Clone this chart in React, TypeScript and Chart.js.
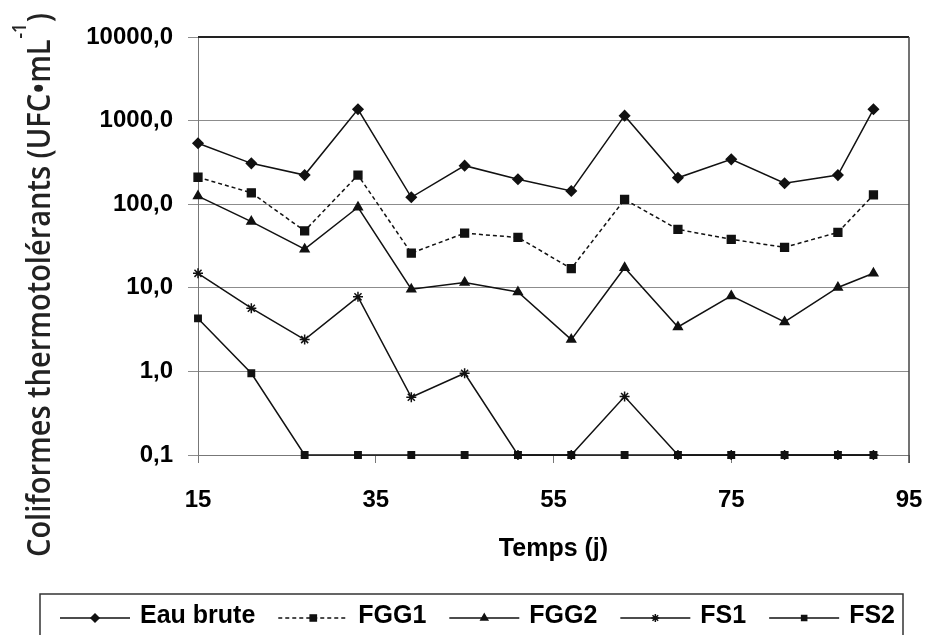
import React, { useEffect, useRef } from "react";
import { Chart, registerables } from "chart.js";
import { drawPoint } from "chart.js/helpers";

Chart.register(...registerables);

// ---- data ----
const days = [15, 21, 27, 33, 39, 45, 51, 57, 63, 69, 75, 81, 87, 91];
const eauBrute = [535, 308, 223, 1365, 121, 289, 199, 144, 1145, 207, 344, 178, 223, 1365];
const fgg1 = [210, 137, 48, 223, 26, 45, 40, 17, 114, 50, 38, 30.5, 46, 129];
const fgg2 = [125, 62, 29, 92, 9.6, 11.6, 8.9, 2.4, 17.4, 3.4, 8.0, 3.9, 10.1, 14.9];
const fs1 = [14.9, 5.7, 2.4, 7.8, 0.49, 0.95, 0.1, 0.1, 0.5, 0.1, 0.1, 0.1, 0.1, 0.1];
const fs2 = [4.3, 0.95, 0.1, 0.1, 0.1, 0.1, 0.1, 0.1, 0.1, 0.1, 0.1, 0.1, 0.1, 0.1];
const seriesNames = ["Eau brute", "FGG1", "FGG2", "FS1", "FS2"];
const yTicks = [0.1, 1, 10, 100, 1000, 10000];
const yTickLabels = ["0,1", "1,0", "10,0", "100,0", "1000,0", "10000,0"];
const xTicks = [15, 35, 55, 75, 95];
const yTitle = "Coliformes thermotolérants (UFC•mL";
const yTitleSup = "-1";
const yTitleEnd = ")";
const xTitle = "Temps (j)";

const FONT = "'Liberation Sans', Arial, sans-serif";
const INK = "#111";

const styles = [
  { pointStyle: "rectRot", radius: 5, dash: [] as number[] },
  { pointStyle: "rect", radius: 5.5, dash: [4, 3] },
  { pointStyle: "triangle", radius: 5, dash: [] as number[] },
  { pointStyle: "star", radius: 5, dash: [] as number[] },
  { pointStyle: "rect", radius: 4.5, dash: [] as number[] },
];

const allSeries = [eauBrute, fgg1, fgg2, fs1, fs2];

const decorPlugin = {
  id: "decor",
  afterDraw(chart: any) {
    const ctx = chart.ctx as CanvasRenderingContext2D;
    const ca = chart.chartArea;
    ctx.save();
    // plot border: top and right
    ctx.strokeStyle = "#222";
    ctx.lineWidth = 2;
    ctx.beginPath();
    ctx.moveTo(ca.left, ca.top);
    ctx.lineTo(ca.right, ca.top);
    ctx.stroke();
    ctx.strokeStyle = "#444";
    ctx.lineWidth = 1.5;
    ctx.beginPath();
    ctx.moveTo(ca.right, ca.top);
    ctx.lineTo(ca.right, ca.bottom + 8);
    ctx.stroke();

    // y axis title (rotated)
    ctx.fillStyle = "#222";
    ctx.textBaseline = "alphabetic";
    ctx.textAlign = "left";
    const mainFont = "600 32px 'Open Sans', sans-serif";
    const supFont = "600 19px 'Open Sans', sans-serif";
    ctx.font = mainFont;
    const w1 = ctx.measureText(yTitle).width;
    const w3 = ctx.measureText(yTitleEnd).width;
    ctx.font = supFont;
    const w2 = ctx.measureText(yTitleSup).width;
    const total = w1 + w2 + w3 + 2;
    const targetLen = 544;
    const s = targetLen / total;
    ctx.translate(50, 557);
    ctx.rotate(-Math.PI / 2);
    ctx.scale(s, 1);
    ctx.font = mainFont;
    ctx.fillText(yTitle, 0, 0);
    ctx.font = supFont;
    ctx.fillText(yTitleSup, w1 + 1, -24);
    ctx.font = mainFont;
    ctx.fillText(yTitleEnd, w1 + w2 + 2, 0);
    ctx.restore();

    // x axis title
    ctx.save();
    ctx.fillStyle = "#000";
    ctx.font = `bold 25px ${FONT}`;
    ctx.textAlign = "center";
    ctx.textBaseline = "middle";
    ctx.fillText(xTitle, (ca.left + ca.right) / 2, 549);
    ctx.restore();

    // legend
    ctx.save();
    ctx.strokeStyle = "#333";
    ctx.lineWidth = 1.5;
    ctx.strokeRect(40, 594, 863, 60);
    ctx.font = `bold 25px ${FONT}`;
    const widths = seriesNames.map((n) => ctx.measureText(n).width);
    const lineLen = 70;
    const startX = 60;
    const endX = 895;
    const sumW = widths.reduce((a, b) => a + b, 0);
    const gap = (endX - startX - seriesNames.length * (lineLen + 10) - sumW) / (seriesNames.length - 1);
    let x = startX;
    const ly = 618;
    seriesNames.forEach((name, i) => {
      const st = styles[i];
      ctx.strokeStyle = INK;
      ctx.fillStyle = INK;
      ctx.lineWidth = 1.5;
      ctx.setLineDash(st.dash);
      ctx.beginPath();
      ctx.moveTo(x, ly);
      ctx.lineTo(x + lineLen, ly);
      ctx.stroke();
      ctx.setLineDash([]);
      drawPoint(ctx, { pointStyle: st.pointStyle as any, radius: st.radius * 0.8, rotation: 0, borderWidth: 1.5 } as any, x + lineLen / 2, ly);
      ctx.fillStyle = "#000";
      ctx.textAlign = "left";
      ctx.textBaseline = "middle";
      ctx.fillText(name, x + lineLen + 10, 616);
      x += lineLen + 10 + widths[i] + gap;
    });
    ctx.restore();
  },
};

export default function App() {
  const ref = useRef<HTMLCanvasElement | null>(null);
  useEffect(() => {
    if (!ref.current) return;
    const datasets = allSeries.map((vals, i) => ({
      label: seriesNames[i],
      data: days.map((d, j) => ({ x: d, y: vals[j] })),
      borderColor: INK,
      backgroundColor: INK,
      pointBackgroundColor: INK,
      pointBorderColor: INK,
      borderWidth: 1.5,
      borderDash: styles[i].dash,
      pointStyle: styles[i].pointStyle as any,
      pointRadius: styles[i].radius,
      pointBorderWidth: 1.5,
      tension: 0,
      clip: false as any,
    }));
    const chart = new Chart(ref.current, {
      type: "line",
      data: { datasets },
      plugins: [decorPlugin],
      options: {
        animation: false,
        responsive: false,
        maintainAspectRatio: false,
        devicePixelRatio: 1,
        layout: { padding: { left: 0, top: 37, right: 18, bottom: 0 } },
        plugins: { legend: { display: false }, tooltip: { enabled: false } },
        scales: {
          x: {
            type: "linear",
            min: 15,
            max: 95,
            afterBuildTicks: (s: any) => {
              s.ticks = xTicks.map((v) => ({ value: v }));
            },
            afterFit: (s: any) => {
              s.height = 180;
              s.paddingLeft = 0;
              s.paddingRight = 0;
            },
            grid: { display: true, drawOnChartArea: false, drawTicks: true, tickLength: 8, color: "#777" },
            border: { display: true, color: "#777", width: 1 },
            ticks: {
              color: "#000",
              font: { family: FONT, size: 24, weight: "bold" },
              padding: 23,
              maxRotation: 0,
              autoSkip: false,
            },
          },
          y: {
            type: "logarithmic",
            min: 0.1,
            max: 10000,
            afterBuildTicks: (s: any) => {
              s.ticks = yTicks.map((v) => ({ value: v }));
            },
            afterFit: (s: any) => {
              s.width = 198;
              s.paddingTop = 0;
              s.paddingBottom = 0;
            },
            grid: { color: "#8c8c8c", tickLength: 10, lineWidth: 1 },
            border: { display: true, color: "#777", width: 1 },
            ticks: {
              color: "#000",
              font: { family: FONT, size: 24, weight: "bold" },
              padding: 15,
              autoSkip: false,
              callback: (_v: any, i: number) => yTickLabels[i],
            },
          },
        },
      },
    });
    return () => chart.destroy();
  }, []);
  return (
    <div style={{ position: "absolute", left: 0, top: 0, width: 927, height: 635, background: "#fff" }}>
      <canvas ref={ref} width={927} height={635} style={{ width: 927, height: 635, display: "block" }} />
    </div>
  );
}
